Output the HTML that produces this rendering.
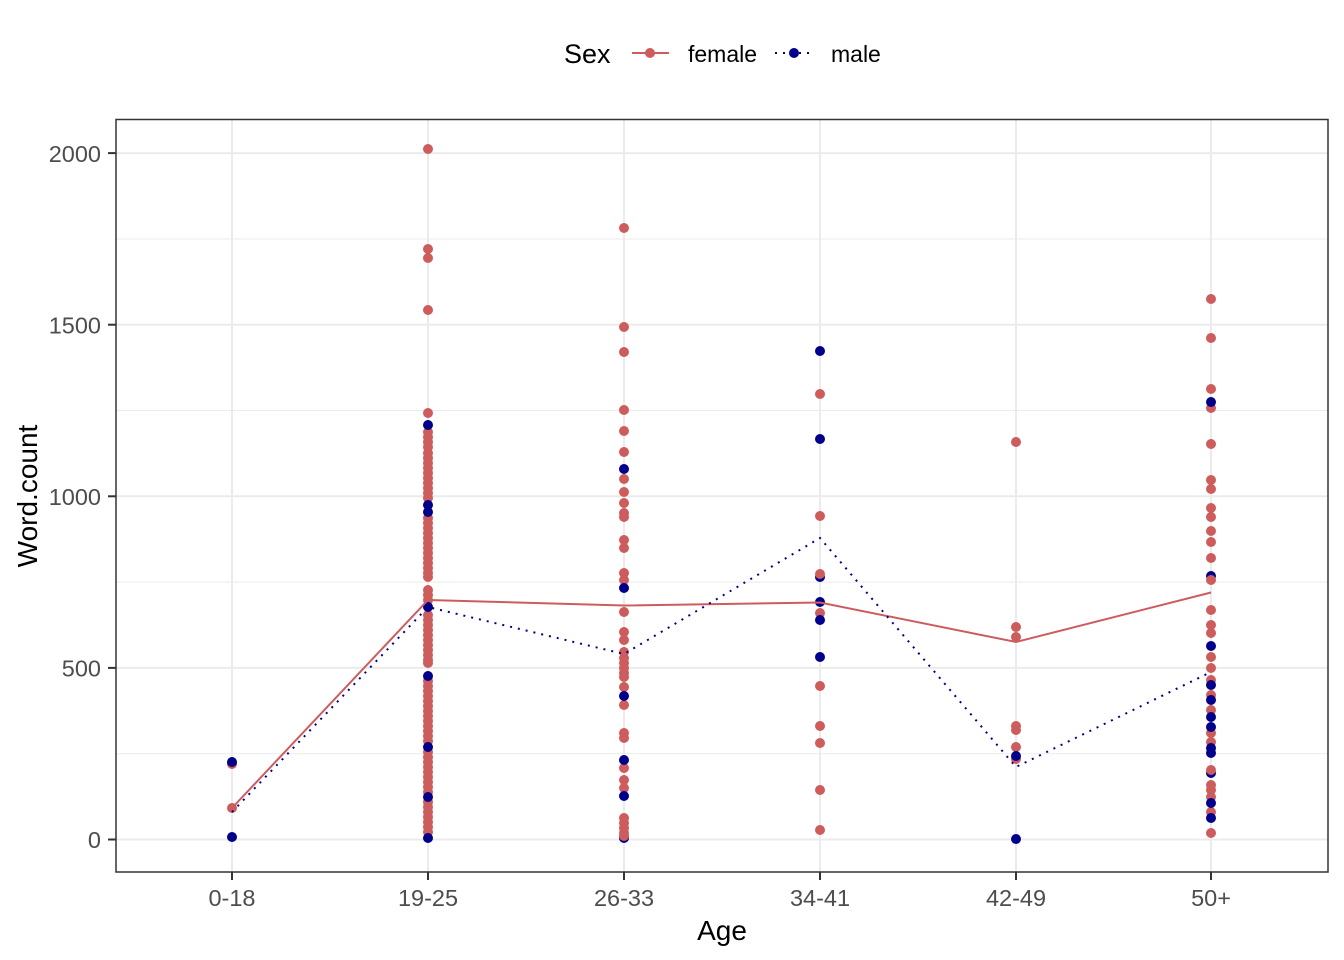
<!DOCTYPE html>
<html>
<head>
<meta charset="utf-8">
<style>
  html,body{margin:0;padding:0;background:#fff;}
  svg{display:block;}
  text{font-family:"Liberation Sans",Arial,sans-serif;}
</style>
</head>
<body>
<svg width="1344" height="960" viewBox="0 0 1344 960" xmlns="http://www.w3.org/2000/svg">
  <rect x="0" y="0" width="1344" height="960" fill="#ffffff"/>
  <!-- panel -->
  <rect x="116" y="119.5" width="1212" height="752.5" fill="#ffffff"/>
  <!-- minor grid -->
  <g stroke="#EBEBEB" stroke-width="1">
    <line x1="116" x2="1328" y1="753.7" y2="753.7"/>
    <line x1="116" x2="1328" y1="582.1" y2="582.1"/>
    <line x1="116" x2="1328" y1="410.5" y2="410.5"/>
    <line x1="116" x2="1328" y1="239" y2="239"/>
  </g>
  <!-- major grid -->
  <g stroke="#EBEBEB" stroke-width="2">
    <line x1="116" x2="1328" y1="839.5" y2="839.5"/>
    <line x1="116" x2="1328" y1="667.9" y2="667.9"/>
    <line x1="116" x2="1328" y1="496.3" y2="496.3"/>
    <line x1="116" x2="1328" y1="324.7" y2="324.7"/>
    <line x1="116" x2="1328" y1="153.1" y2="153.1"/>
    <line x1="232" x2="232" y1="119.5" y2="872"/>
    <line x1="428" x2="428" y1="119.5" y2="872"/>
    <line x1="624" x2="624" y1="119.5" y2="872"/>
    <line x1="820" x2="820" y1="119.5" y2="872"/>
    <line x1="1016" x2="1016" y1="119.5" y2="872"/>
    <line x1="1211" x2="1211" y1="119.5" y2="872"/>
  </g>

  <!-- points -->
  <g fill="#CD5C5C">
    <!-- 0-18 -->
    <circle cx="232" cy="764" r="5"/>
    <circle cx="232" cy="808" r="5"/>
    <!-- 19-25 -->
    <circle cx="428" cy="149" r="5"/><circle cx="428" cy="249" r="5"/><circle cx="428" cy="258" r="5"/><circle cx="428" cy="310" r="5"/>
    <circle cx="428" cy="413" r="5"/><circle cx="428" cy="432" r="5"/><circle cx="428" cy="437" r="5"/><circle cx="428" cy="442" r="5"/>
    <circle cx="428" cy="447" r="5"/><circle cx="428" cy="453" r="5"/><circle cx="428" cy="458" r="5"/><circle cx="428" cy="463" r="5"/>
    <circle cx="428" cy="468" r="5"/><circle cx="428" cy="473" r="5"/><circle cx="428" cy="478" r="5"/><circle cx="428" cy="483" r="5"/>
    <circle cx="428" cy="488" r="5"/><circle cx="428" cy="493" r="5"/><circle cx="428" cy="498" r="5"/>
    <circle cx="428" cy="518" r="5"/><circle cx="428" cy="523" r="5"/><circle cx="428" cy="528" r="5"/><circle cx="428" cy="533" r="5"/>
    <circle cx="428" cy="538" r="5"/><circle cx="428" cy="543" r="5"/><circle cx="428" cy="548" r="5"/><circle cx="428" cy="553" r="5"/>
    <circle cx="428" cy="558" r="5"/><circle cx="428" cy="563" r="5"/><circle cx="428" cy="568" r="5"/><circle cx="428" cy="573" r="5"/>
    <circle cx="428" cy="577" r="5"/><circle cx="428" cy="590" r="5"/><circle cx="428" cy="595" r="5"/><circle cx="428" cy="600" r="5"/>
    <circle cx="428" cy="615" r="5"/><circle cx="428" cy="620" r="5"/><circle cx="428" cy="625" r="5"/><circle cx="428" cy="630" r="5"/>
    <circle cx="428" cy="635" r="5"/><circle cx="428" cy="640" r="5"/><circle cx="428" cy="645" r="5"/><circle cx="428" cy="650" r="5"/>
    <circle cx="428" cy="655" r="5"/><circle cx="428" cy="660" r="5"/><circle cx="428" cy="663" r="5"/>
    <circle cx="428" cy="681" r="5"/><circle cx="428" cy="686" r="5"/><circle cx="428" cy="691" r="5"/><circle cx="428" cy="696" r="5"/>
    <circle cx="428" cy="701" r="5"/><circle cx="428" cy="706" r="5"/><circle cx="428" cy="711" r="5"/><circle cx="428" cy="716" r="5"/>
    <circle cx="428" cy="721" r="5"/><circle cx="428" cy="726" r="5"/><circle cx="428" cy="731" r="5"/><circle cx="428" cy="736" r="5"/>
    <circle cx="428" cy="741" r="5"/><circle cx="428" cy="752" r="5"/><circle cx="428" cy="757" r="5"/><circle cx="428" cy="762" r="5"/>
    <circle cx="428" cy="767" r="5"/><circle cx="428" cy="772" r="5"/><circle cx="428" cy="777" r="5"/><circle cx="428" cy="782" r="5"/>
    <circle cx="428" cy="787" r="5"/><circle cx="428" cy="792" r="5"/><circle cx="428" cy="802" r="5"/><circle cx="428" cy="807" r="5"/>
    <circle cx="428" cy="812" r="5"/><circle cx="428" cy="817" r="5"/><circle cx="428" cy="822" r="5"/><circle cx="428" cy="827" r="5"/>
    <circle cx="428" cy="832" r="5"/>
    <!-- 26-33 -->
    <circle cx="624" cy="228" r="5"/><circle cx="624" cy="327" r="5"/><circle cx="624" cy="352" r="5"/><circle cx="624" cy="410" r="5"/>
    <circle cx="624" cy="431" r="5"/><circle cx="624" cy="452" r="5"/><circle cx="624" cy="479" r="5"/><circle cx="624" cy="492" r="5"/>
    <circle cx="624" cy="503" r="5"/><circle cx="624" cy="513" r="5"/><circle cx="624" cy="517" r="5"/><circle cx="624" cy="540" r="5"/>
    <circle cx="624" cy="548" r="5"/><circle cx="624" cy="573" r="5"/><circle cx="624" cy="580" r="5"/><circle cx="624" cy="612" r="5"/>
    <circle cx="624" cy="632" r="5"/><circle cx="624" cy="640" r="5"/><circle cx="624" cy="652" r="5"/><circle cx="624" cy="658" r="5"/>
    <circle cx="624" cy="663" r="5"/><circle cx="624" cy="668" r="5"/><circle cx="624" cy="673" r="5"/><circle cx="624" cy="677" r="5"/>
    <circle cx="624" cy="687" r="5"/><circle cx="624" cy="705" r="5"/><circle cx="624" cy="733" r="5"/><circle cx="624" cy="738" r="5"/>
    <circle cx="624" cy="768" r="5"/><circle cx="624" cy="780" r="5"/><circle cx="624" cy="788" r="5"/><circle cx="624" cy="818" r="5"/>
    <circle cx="624" cy="823" r="5"/><circle cx="624" cy="828" r="5"/><circle cx="624" cy="833" r="5"/>
  </g>
  <g fill="#00008B">
    <!-- blue under red -->
    <circle cx="232" cy="837" r="5"/>
    <circle cx="820" cy="577" r="5"/>
    <circle cx="1211" cy="576" r="5"/>
    <circle cx="1211" cy="773" r="5"/>
    <circle cx="624" cy="838" r="5"/>
  </g>
  <g fill="#CD5C5C">
    <circle cx="624" cy="836" r="5"/>
    <!-- 34-41 -->
    <circle cx="820" cy="394" r="5"/><circle cx="820" cy="516" r="5"/><circle cx="820" cy="574" r="5"/>
    <circle cx="820" cy="613" r="5"/><circle cx="820" cy="686" r="5"/><circle cx="820" cy="726" r="5"/><circle cx="820" cy="743" r="5"/>
    <circle cx="820" cy="790" r="5"/><circle cx="820" cy="830" r="5"/>
    <!-- 42-49 -->
    <circle cx="1016" cy="442" r="5"/><circle cx="1016" cy="627" r="5"/><circle cx="1016" cy="637" r="5"/>
    <circle cx="1016" cy="726" r="5"/><circle cx="1016" cy="730" r="5"/><circle cx="1016" cy="747" r="5"/><circle cx="1016" cy="759" r="5"/>
    <!-- 50+ -->
    <circle cx="1211" cy="299" r="5"/><circle cx="1211" cy="338" r="5"/><circle cx="1211" cy="389" r="5"/><circle cx="1211" cy="408" r="5"/>
    <circle cx="1211" cy="444" r="5"/><circle cx="1211" cy="480" r="5"/><circle cx="1211" cy="489" r="5"/><circle cx="1211" cy="508" r="5"/>
    <circle cx="1211" cy="517" r="5"/><circle cx="1211" cy="531" r="5"/><circle cx="1211" cy="542" r="5"/><circle cx="1211" cy="558" r="5"/>
    <circle cx="1211" cy="580" r="5"/><circle cx="1211" cy="610" r="5"/><circle cx="1211" cy="625" r="5"/>
    <circle cx="1211" cy="633" r="5"/><circle cx="1211" cy="657" r="5"/><circle cx="1211" cy="668" r="5"/><circle cx="1211" cy="680" r="5"/>
    <circle cx="1211" cy="695" r="5"/><circle cx="1211" cy="710" r="5"/><circle cx="1211" cy="733" r="5"/><circle cx="1211" cy="742" r="5"/>
    <circle cx="1211" cy="770" r="5"/><circle cx="1211" cy="785" r="5"/><circle cx="1211" cy="790" r="5"/><circle cx="1211" cy="797" r="5"/>
    <circle cx="1211" cy="812" r="5"/><circle cx="1211" cy="833" r="5"/>
  </g>
  <g fill="#00008B">
    <circle cx="232" cy="762" r="5"/>
    <!-- 19-25 -->
    <circle cx="428" cy="425" r="5"/><circle cx="428" cy="505" r="5"/><circle cx="428" cy="512" r="5"/>
    <circle cx="428" cy="607" r="5"/><circle cx="428" cy="676" r="5"/><circle cx="428" cy="747" r="5"/><circle cx="428" cy="797" r="5"/>
    <circle cx="428" cy="838" r="5"/>
    <!-- 26-33 -->
    <circle cx="624" cy="469" r="5"/><circle cx="624" cy="588" r="5"/><circle cx="624" cy="696" r="5"/><circle cx="624" cy="760" r="5"/>
    <circle cx="624" cy="796" r="5"/>
    <!-- 34-41 -->
    <circle cx="820" cy="351" r="5"/><circle cx="820" cy="439" r="5"/><circle cx="820" cy="602" r="5"/><circle cx="820" cy="620" r="5"/>
    <circle cx="820" cy="657" r="5"/>
    <!-- 42-49 -->
    <circle cx="1016" cy="756" r="5"/><circle cx="1016" cy="839" r="5"/>
    <!-- 50+ -->
    <circle cx="1211" cy="402" r="5"/><circle cx="1211" cy="646" r="5"/><circle cx="1211" cy="685" r="5"/><circle cx="1211" cy="700" r="5"/>
    <circle cx="1211" cy="717" r="5"/><circle cx="1211" cy="727" r="5"/><circle cx="1211" cy="748" r="5"/><circle cx="1211" cy="753" r="5"/>
    <circle cx="1211" cy="803" r="5"/><circle cx="1211" cy="818" r="5"/>
  </g>

  <!-- lines -->
  <polyline points="232,808 428,600 624,605.5 820,602.5 1016,642 1211,592.5" fill="none" stroke="#CD5C5C" stroke-width="2"/>
  <polyline points="232,812 428,607 624,654 820,538 1016,767 1211,672" fill="none" stroke="#00008B" stroke-width="2" stroke-dasharray="2,6"/>

  <!-- panel border -->
  <rect x="116" y="119.5" width="1212" height="752.5" fill="none" stroke="#333333" stroke-width="1.5"/>

  <!-- ticks -->
  <g stroke="#333333" stroke-width="2">
    <line x1="108" x2="116" y1="839.5" y2="839.5"/>
    <line x1="108" x2="116" y1="667.9" y2="667.9"/>
    <line x1="108" x2="116" y1="496.3" y2="496.3"/>
    <line x1="108" x2="116" y1="324.7" y2="324.7"/>
    <line x1="108" x2="116" y1="153.1" y2="153.1"/>
    <line x1="232" x2="232" y1="872" y2="880"/>
    <line x1="428" x2="428" y1="872" y2="880"/>
    <line x1="624" x2="624" y1="872" y2="880"/>
    <line x1="820" x2="820" y1="872" y2="880"/>
    <line x1="1016" x2="1016" y1="872" y2="880"/>
    <line x1="1211" x2="1211" y1="872" y2="880"/>
  </g>

  <!-- tick labels -->
  <g fill="#4D4D4D" font-size="23.5" text-anchor="end">
    <text x="101" y="848">0</text>
    <text x="101" y="676.5">500</text>
    <text x="101" y="505">1000</text>
    <text x="101" y="333.5">1500</text>
    <text x="101" y="162">2000</text>
  </g>
  <g fill="#4D4D4D" font-size="23.5" text-anchor="middle">
    <text x="232" y="906">0-18</text>
    <text x="428" y="906">19-25</text>
    <text x="624" y="906">26-33</text>
    <text x="820" y="906">34-41</text>
    <text x="1016" y="906">42-49</text>
    <text x="1211" y="906">50+</text>
  </g>

  <!-- axis titles -->
  <text x="722" y="940" font-size="28" text-anchor="middle" fill="#000">Age</text>
  <text transform="translate(37,496) rotate(-90)" font-size="28" text-anchor="middle" fill="#000">Word.count</text>

  <!-- legend -->
  <text x="564" y="63" font-size="27" fill="#000">Sex</text>
  <line x1="632" x2="669" y1="53" y2="53" stroke="#CD5C5C" stroke-width="2"/>
  <circle cx="650" cy="53" r="5" fill="#CD5C5C"/>
  <text x="688" y="62" font-size="23" fill="#000">female</text>
  <line x1="775" x2="810" y1="53" y2="53" stroke="#00008B" stroke-width="2" stroke-dasharray="2,6"/>
  <circle cx="794" cy="53" r="5" fill="#00008B"/>
  <text x="831" y="62" font-size="23" fill="#000">male</text>
</svg>
</body>
</html>
